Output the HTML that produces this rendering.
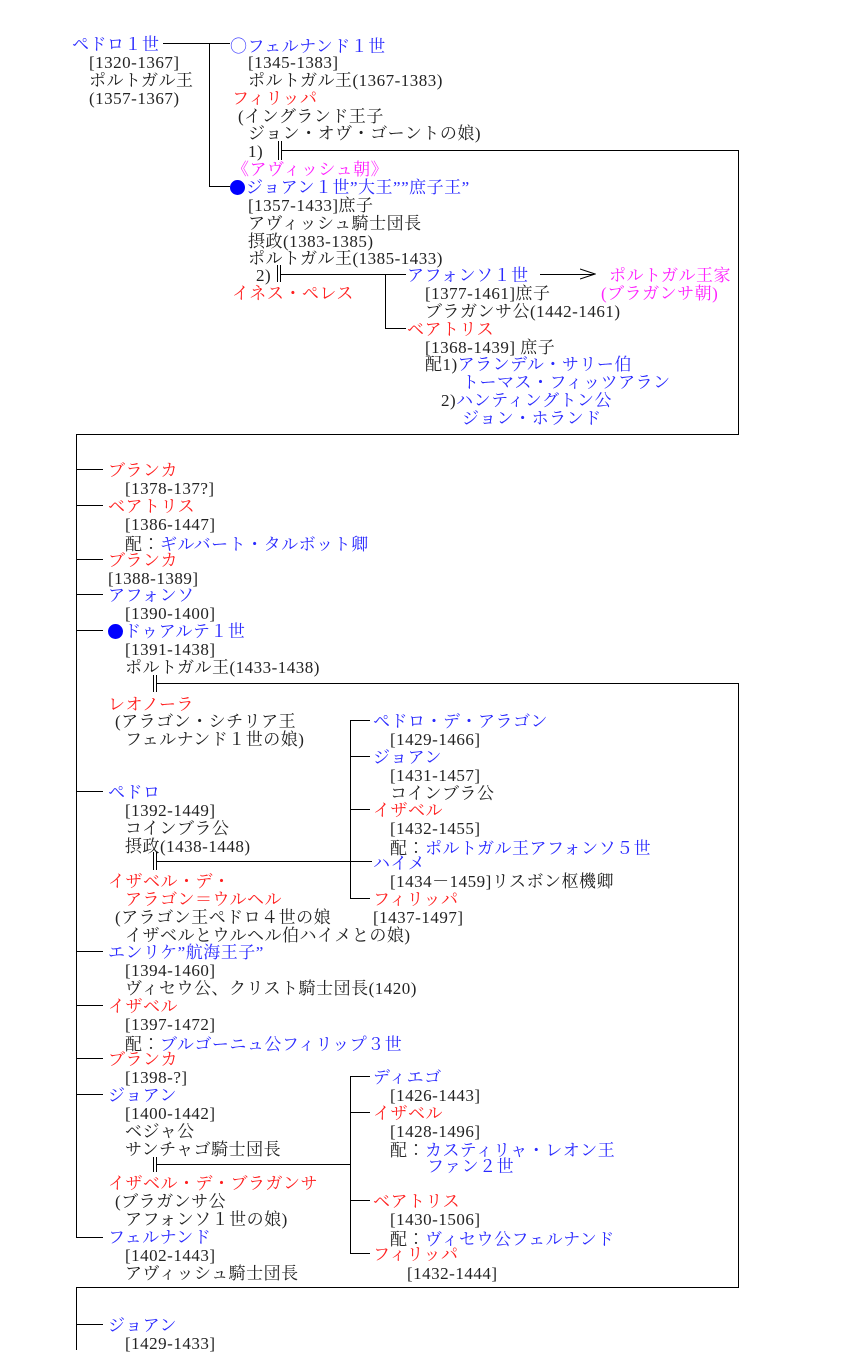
<!DOCTYPE html>
<html><head><meta charset="utf-8"><style>
body{margin:0;width:860px;height:1350px;background:#fff;position:relative;overflow:hidden;font-family:"Liberation Serif","Noto Serif CJK SC","Noto Sans CJK JP",serif;font-size:17px;letter-spacing:0.5px;color:#222}
.t{position:absolute;white-space:pre;line-height:18px;height:18px;margin-top:2px}
.b{color:#2a2aff}.r{color:#ff2020}.m{color:#ff22ff}
.j{font-family:"Noto Sans CJK JP",sans-serif;font-weight:300}
.h{position:absolute;height:1px;background:#000}
.v{position:absolute;width:1px;background:#000}
.dot{display:inline-block;width:15px;height:15px;border-radius:50%;background:#0000ff;vertical-align:-2px;margin-right:1px}
</style></head><body>
<!-- lines -->
<div class="h" style="left:163px;top:43px;width:67px"></div>
<div class="v" style="left:209px;top:43px;height:143px"></div>
<div class="h" style="left:209px;top:186px;width:21px"></div>
<div class="v" style="left:278px;top:141px;height:19px"></div><div class="v" style="left:281px;top:141px;height:19px"></div>
<div class="h" style="left:281px;top:150px;width:457px"></div>
<div class="v" style="left:738px;top:150px;height:284px"></div>
<div class="h" style="left:76px;top:434px;width:663px"></div>
<div class="v" style="left:277px;top:265px;height:17px"></div><div class="v" style="left:280px;top:265px;height:17px"></div>
<div class="h" style="left:280px;top:274px;width:126px"></div>
<div class="v" style="left:385px;top:274px;height:54px"></div>
<div class="h" style="left:385px;top:328px;width:21px"></div>
<div class="h" style="left:540px;top:274px;width:54px"></div>
<svg style="position:absolute;left:580px;top:268px" width="16" height="12"><path d="M0 1 L15 6 L0 11" fill="none" stroke="#000"/></svg>
<div class="v" style="left:76px;top:434px;height:803px"></div>
<div class="h" style="left:76px;top:469px;width:27px"></div>
<div class="h" style="left:76px;top:505px;width:27px"></div>
<div class="h" style="left:76px;top:559px;width:27px"></div>
<div class="h" style="left:76px;top:594px;width:27px"></div>
<div class="h" style="left:76px;top:630px;width:27px"></div>
<div class="h" style="left:76px;top:791px;width:27px"></div>
<div class="h" style="left:76px;top:951px;width:27px"></div>
<div class="h" style="left:76px;top:1005px;width:27px"></div>
<div class="h" style="left:76px;top:1058px;width:27px"></div>
<div class="h" style="left:76px;top:1094px;width:27px"></div>
<div class="h" style="left:76px;top:1237px;width:27px"></div>
<div class="v" style="left:153px;top:675px;height:17px"></div><div class="v" style="left:156px;top:675px;height:17px"></div>
<div class="h" style="left:156px;top:683px;width:582px"></div>
<div class="v" style="left:738px;top:683px;height:604px"></div>
<div class="h" style="left:76px;top:1287px;width:663px"></div>
<div class="v" style="left:76px;top:1287px;height:63px"></div>
<div class="h" style="left:76px;top:1324px;width:27px"></div>
<div class="v" style="left:153px;top:852px;height:18px"></div><div class="v" style="left:156px;top:852px;height:18px"></div>
<div class="h" style="left:156px;top:861px;width:216px"></div>
<div class="v" style="left:350px;top:720px;height:178px"></div>
<div class="h" style="left:350px;top:720px;width:20px"></div>
<div class="h" style="left:350px;top:756px;width:20px"></div>
<div class="h" style="left:350px;top:809px;width:20px"></div>
<div class="h" style="left:350px;top:898px;width:20px"></div>
<div class="v" style="left:153px;top:1157px;height:15px"></div><div class="v" style="left:156px;top:1157px;height:15px"></div>
<div class="h" style="left:156px;top:1164px;width:194px"></div>
<div class="v" style="left:350px;top:1076px;height:177px"></div>
<div class="h" style="left:350px;top:1076px;width:20px"></div>
<div class="h" style="left:350px;top:1112px;width:20px"></div>
<div class="h" style="left:350px;top:1200px;width:20px"></div>
<div class="h" style="left:350px;top:1253px;width:20px"></div>
<!-- text -->
<div class="t b" style="left:72px;top:34px">ペドロ１世</div>
<div class="t" style="left:89px;top:52px">[1320-1367]</div>
<div class="t" style="left:89px;top:70px">ポルトガル王</div>
<div class="t" style="left:89px;top:88px">(1357-1367)</div>
<div class="t b" style="left:230px;top:34px"><span class="j">○</span>フェルナンド１世</div>
<div class="t" style="left:248px;top:52px">[1345-1383]</div>
<div class="t" style="left:248px;top:70px">ポルトガル王(1367-1383)</div>
<div class="t r" style="left:232px;top:88px">フィリッパ</div>
<div class="t" style="left:238px;top:106px">(イングランド王子</div>
<div class="t" style="left:248px;top:123px">ジョン・オヴ・ゴーントの娘)</div>
<div class="t" style="left:248px;top:141px">1)</div>
<div class="t m" style="left:232px;top:159px">《アヴィッシュ朝》</div>
<div class="t b" style="left:230px;top:177px"><span class="dot"></span>ジョアン１世”大王””庶子王”</div>
<div class="t" style="left:248px;top:195px">[1357-1433]庶子</div>
<div class="t" style="left:248px;top:213px">アヴィッシュ騎士団長</div>
<div class="t" style="left:248px;top:231px">摂政(1383-1385)</div>
<div class="t" style="left:248px;top:248px">ポルトガル王(1385-1433)</div>
<div class="t" style="left:256px;top:265px">2)</div>
<div class="t r" style="left:232px;top:283px">イネス・ペレス</div>
<div class="t b" style="left:407px;top:265px">アフォンソ１世</div>
<div class="t m" style="left:609px;top:265px">ポルトガル王家</div>
<div class="t m" style="left:601px;top:283px">(ブラガンサ朝)</div>
<div class="t" style="left:425px;top:283px">[1377-1461]庶子</div>
<div class="t" style="left:425px;top:301px">ブラガンサ公(1442-1461)</div>
<div class="t r" style="left:407px;top:319px">ベアトリス</div>
<div class="t" style="left:425px;top:337px">[1368-1439] 庶子</div>
<div class="t" style="left:425px;top:354px">配1)<span class="b">アランデル・サリー伯</span></div>
<div class="t b" style="left:462px;top:372px">トーマス・フィッツアラン</div>
<div class="t" style="left:441px;top:390px">2)<span class="b">ハンティングトン公</span></div>
<div class="t b" style="left:462px;top:408px">ジョン・ホランド</div>

<div class="t r" style="left:108px;top:460px">ブランカ</div>
<div class="t" style="left:125px;top:478px">[1378-137?]</div>
<div class="t r" style="left:108px;top:496px">ベアトリス</div>
<div class="t" style="left:125px;top:514px">[1386-1447]</div>
<div class="t" style="left:125px;top:532px">配<span class="j">：</span><span class="b">ギルバート・タルボット卿</span></div>
<div class="t r" style="left:108px;top:550px">ブランカ</div>
<div class="t" style="left:108px;top:568px">[1388-1389]</div>
<div class="t b" style="left:108px;top:585px">アフォンソ</div>
<div class="t" style="left:125px;top:603px">[1390-1400]</div>
<div class="t b" style="left:108px;top:621px"><span class="dot"></span>ドゥアルテ１世</div>
<div class="t" style="left:125px;top:639px">[1391-1438]</div>
<div class="t" style="left:125px;top:657px">ポルトガル王(1433-1438)</div>
<div class="t r" style="left:108px;top:694px">レオノーラ</div>
<div class="t" style="left:115px;top:711px">(アラゴン・シチリア王</div>
<div class="t" style="left:125px;top:729px">フェルナンド１世の娘)</div>
<div class="t b" style="left:108px;top:782px">ペドロ</div>
<div class="t" style="left:125px;top:800px">[1392-1449]</div>
<div class="t" style="left:125px;top:818px">コインブラ公</div>
<div class="t" style="left:125px;top:836px">摂政(1438-1448)</div>
<div class="t r" style="left:108px;top:871px">イザベル・デ・</div>
<div class="t r" style="left:125px;top:889px">アラゴン＝ウルヘル</div>
<div class="t" style="left:115px;top:907px">(アラゴン王ペドロ４世の娘</div>
<div class="t" style="left:125px;top:925px">イザベルとウルヘル伯ハイメとの娘)</div>
<div class="t b" style="left:373px;top:711px">ペドロ・デ・アラゴン</div>
<div class="t" style="left:390px;top:729px">[1429-1466]</div>
<div class="t b" style="left:373px;top:747px">ジョアン</div>
<div class="t" style="left:390px;top:765px">[1431-1457]</div>
<div class="t" style="left:390px;top:783px">コインブラ公</div>
<div class="t r" style="left:373px;top:800px">イザベル</div>
<div class="t" style="left:390px;top:818px">[1432-1455]</div>
<div class="t" style="left:390px;top:836px">配<span class="j">：</span><span class="b">ポルトガル王アフォンソ５世</span></div>
<div class="t b" style="left:373px;top:853px">ハイメ</div>
<div class="t" style="left:390px;top:871px">[1434－1459]リスボン枢機卿</div>
<div class="t r" style="left:373px;top:889px">フィリッパ</div>
<div class="t" style="left:373px;top:907px">[1437-1497]</div>
<div class="t b" style="left:108px;top:942px">エンリケ”航海王子”</div>
<div class="t" style="left:125px;top:960px">[1394-1460]</div>
<div class="t" style="left:125px;top:978px">ヴィセウ公、クリスト騎士団長(1420)</div>
<div class="t r" style="left:108px;top:996px">イザベル</div>
<div class="t" style="left:125px;top:1014px">[1397-1472]</div>
<div class="t" style="left:125px;top:1032px">配<span class="j">：</span><span class="b">ブルゴーニュ公フィリップ３世</span></div>
<div class="t r" style="left:108px;top:1049px">ブランカ</div>
<div class="t" style="left:125px;top:1067px">[1398-?]</div>
<div class="t b" style="left:108px;top:1085px">ジョアン</div>
<div class="t" style="left:125px;top:1103px">[1400-1442]</div>
<div class="t" style="left:125px;top:1121px">ベジャ公</div>
<div class="t" style="left:125px;top:1139px">サンチャゴ騎士団長</div>
<div class="t r" style="left:108px;top:1173px">イザベル・デ・ブラガンサ</div>
<div class="t" style="left:115px;top:1191px">(ブラガンサ公</div>
<div class="t" style="left:125px;top:1209px">アフォンソ１世の娘)</div>
<div class="t b" style="left:108px;top:1227px">フェルナンド</div>
<div class="t" style="left:125px;top:1245px">[1402-1443]</div>
<div class="t" style="left:125px;top:1263px">アヴィッシュ騎士団長</div>
<div class="t b" style="left:373px;top:1067px">ディエゴ</div>
<div class="t" style="left:390px;top:1085px">[1426-1443]</div>
<div class="t r" style="left:373px;top:1103px">イザベル</div>
<div class="t" style="left:390px;top:1121px">[1428-1496]</div>
<div class="t" style="left:390px;top:1138px">配<span class="j">：</span><span class="b">カスティリャ・レオン王</span></div>
<div class="t b" style="left:427px;top:1156px">ファン２世</div>
<div class="t r" style="left:373px;top:1191px">ベアトリス</div>
<div class="t" style="left:390px;top:1209px">[1430-1506]</div>
<div class="t" style="left:390px;top:1227px">配<span class="j">：</span><span class="b">ヴィセウ公フェルナンド</span></div>
<div class="t r" style="left:373px;top:1244px">フィリッパ</div>
<div class="t" style="left:407px;top:1263px">[1432-1444]</div>
<div class="t b" style="left:108px;top:1315px">ジョアン</div>
<div class="t" style="left:125px;top:1333px">[1429-1433]</div>
</body></html>
